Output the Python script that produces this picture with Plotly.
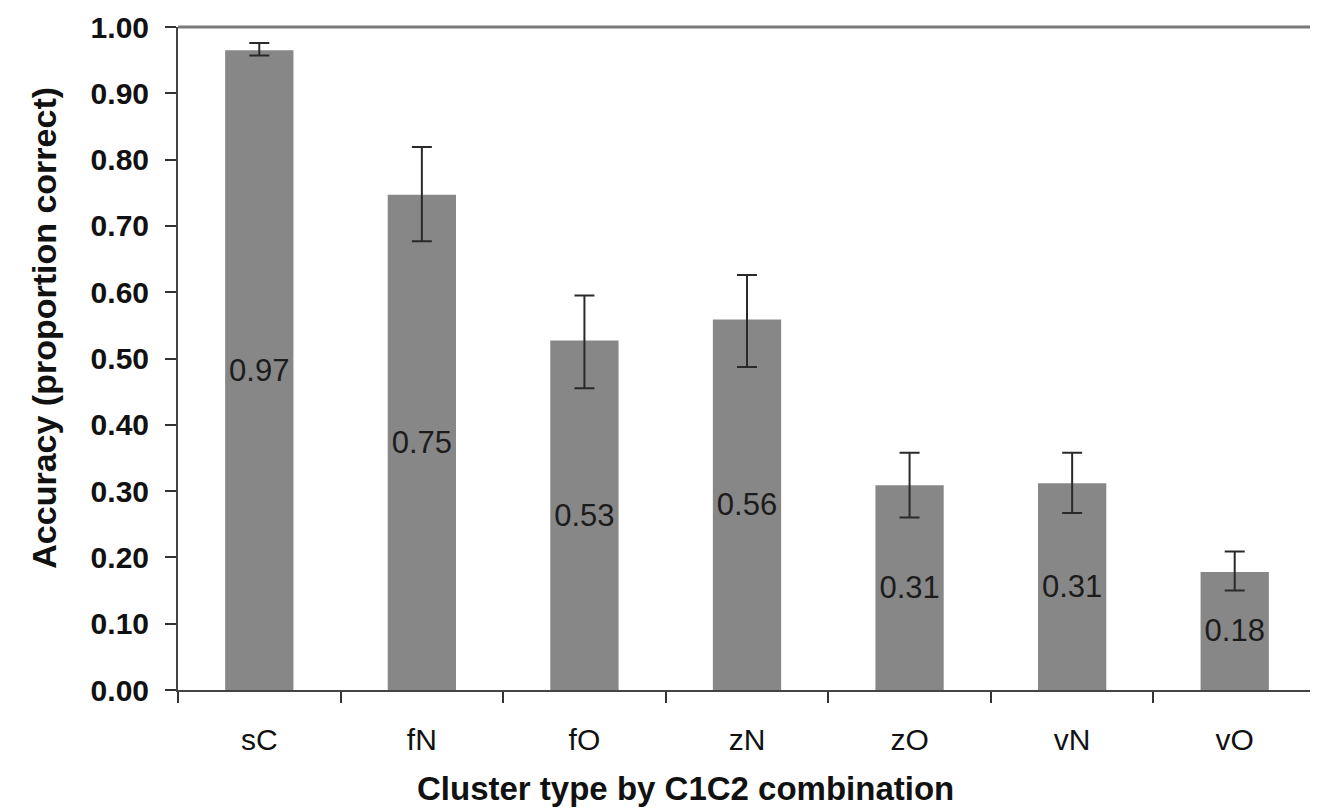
import plotly.graph_objects as go

categories = ["sC", "fN", "fO", "zN", "zO", "vN", "vO"]
accuracy = [0.965, 0.747, 0.527, 0.559, 0.309, 0.312, 0.178]
err_plus = [0.011, 0.072, 0.068, 0.067, 0.049, 0.046, 0.031]
err_minus = [0.008, 0.070, 0.072, 0.072, 0.049, 0.045, 0.028]
bar_labels = ["0.97", "0.75", "0.53", "0.56", "0.31", "0.31", "0.18"]
y_ticks = [0.0, 0.1, 0.2, 0.3, 0.4, 0.5, 0.6, 0.7, 0.8, 0.9, 1.0]
y_tick_labels = ["0.00", "0.10", "0.20", "0.30", "0.40", "0.50",
                 "0.60", "0.70", "0.80", "0.90", "1.00"]

FONT = "Liberation Sans, Arial, sans-serif"

fig = go.Figure()
fig.add_trace(go.Bar(
    x=categories,
    y=accuracy,
    width=0.42,
    marker=dict(color="#878787", line=dict(width=0)),
    error_y=dict(type="data", symmetric=False, array=err_plus,
                 arrayminus=err_minus, color="#2a2a2a", thickness=2, width=10),
    text=bar_labels,
    textposition="inside",
    insidetextanchor="middle",
    constraintext="none",
    textangle=0,
    textfont=dict(family=FONT, size=31, color="#1c1c1c"),
    hoverinfo="skip",
))

# page body has an 8px margin, so the figure is sized to fit the window
fig.update_layout(
    width=1310, height=803,
    margin=dict(l=170, r=2, t=17, b=121),
    paper_bgcolor="white", plot_bgcolor="white",
    showlegend=False,
    font=dict(family=FONT, color="#111"),
)

fig.update_xaxes(
    type="category",
    tickson="boundaries",
    ticks="outside", ticklen=11, tickwidth=2, tickcolor="#333",
    showline=True, linecolor="#444", linewidth=2,
    showgrid=False,
    tickfont=dict(family=FONT, size=30, color="#111"),
    ticklabelstandoff=22,
)
fig.update_yaxes(
    range=[0, 1],
    tickmode="array", tickvals=y_ticks, ticktext=y_tick_labels,
    ticks="outside", ticklen=11, tickwidth=2, tickcolor="#333",
    showline=True, linecolor="#444", linewidth=2,
    showgrid=False, zeroline=False,
    tickfont=dict(family=FONT, size=30, color="#111", weight="bold"),
    ticklabelstandoff=10,
)

# plot frame (top and right in gray)
fig.add_shape(type="line", xref="paper", yref="paper", x0=0, x1=1, y0=1, y1=1,
              line=dict(color="#7a7a7a", width=3))
fig.add_shape(type="line", xref="paper", yref="paper", x0=1, x1=1, y0=0, y1=1,
              line=dict(color="#7a7a7a", width=3))

fig.add_annotation(
    text="Cluster type by C1C2 combination",
    xref="paper", yref="paper", x=0.446, y=-0.149,
    xanchor="center", yanchor="middle", showarrow=False,
    font=dict(family=FONT, size=33, color="#111", weight="bold"),
)
fig.add_annotation(
    text="Accuracy (proportion correct)",
    xref="paper", yref="paper", x=-0.118, y=0.546,
    xanchor="center", yanchor="middle", showarrow=False, textangle=-90,
    font=dict(family=FONT, size=34, color="#111", weight="bold"),
)

fig.write_html("out.html")
